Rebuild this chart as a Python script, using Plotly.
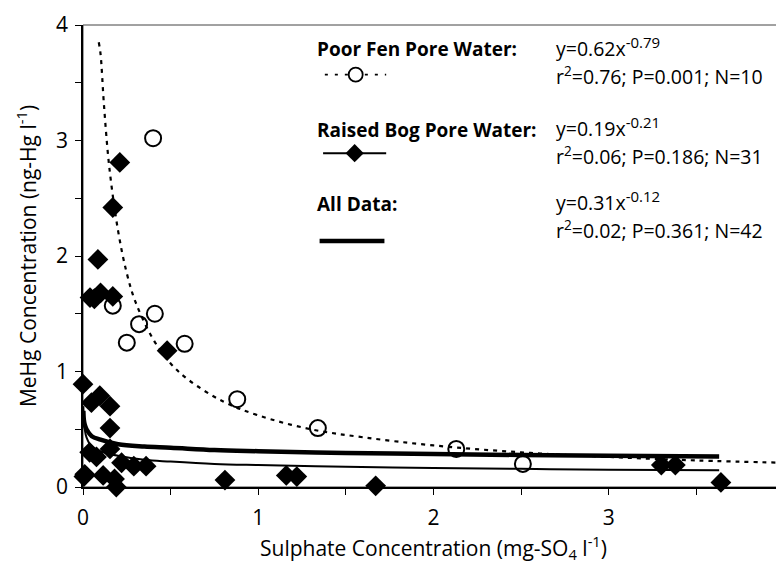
import plotly.graph_objects as go

# ---- data ----
fen_x = [0.40, 0.17, 0.25, 0.32, 0.41, 0.58, 0.88, 1.34, 2.13, 2.51]
fen_y = [3.02, 1.57, 1.25, 1.41, 1.50, 1.24, 0.76, 0.51, 0.33, 0.20]

bog_x = [0.21, 0.17, 0.085, 0.04, 0.065, 0.10, 0.17, 0.48, 0.0, 0.048, 0.096, 0.154,
         0.154, 0.038, 0.077, 0.154, 0.22, 0.29, 0.36, 0.01, 0.115, 0.18, 0.19, 0.81,
         1.16, 1.22, 1.67, 3.30, 3.38, 3.64, 0.005]
bog_y = [2.81, 2.42, 1.97, 1.64, 1.63, 1.68, 1.65, 1.18, 0.89, 0.73, 0.79, 0.70,
         0.51, 0.30, 0.26, 0.33, 0.21, 0.18, 0.18, 0.11, 0.10, 0.07, 0.00, 0.06,
         0.10, 0.09, 0.01, 0.19, 0.19, 0.04, 0.09]

# fitted curves, points
fen_fit_x = [0.09, 0.10, 0.12, 0.15, 0.2, 0.25, 0.3, 0.4, 0.5, 0.6, 0.8, 1.0, 1.3, 1.6, 2.0, 2.5, 3.0, 3.5, 4.0]
fen_fit_y = [3.85, 3.75, 3.30, 2.77, 2.22, 1.85, 1.60, 1.28, 1.07, 0.93, 0.74, 0.62, 0.50, 0.43, 0.36, 0.30, 0.26, 0.23, 0.21]

bog_fit_x = [0.002, 0.005, 0.01, 0.02, 0.05, 0.1, 0.2, 0.35, 0.5, 0.75, 1.0, 1.5, 2.0, 2.5, 3.0, 3.63]
bog_fit_y = [0.70, 0.58, 0.50, 0.43, 0.35, 0.31, 0.27, 0.235, 0.22, 0.20, 0.19, 0.175, 0.165, 0.157, 0.15, 0.145]

all_fit_x = [0.002, 0.005, 0.01, 0.02, 0.05, 0.1, 0.2, 0.35, 0.5, 0.75, 1.0, 1.5, 2.0, 2.5, 3.0, 3.63]
all_fit_y = [0.66, 0.58, 0.54, 0.50, 0.44, 0.41, 0.37, 0.35, 0.34, 0.32, 0.31, 0.295, 0.285, 0.277, 0.27, 0.265]

x_ticks = [0, 1, 2, 3, 4]
y_ticks = [0, 1, 2, 3, 4]

legend_labels = ["Poor Fen Pore Water:", "Raised Bog Pore Water:", "All Data:"]
legend_coef = ["0.62", "0.19", "0.31"]
legend_exp = ["-0.79", "-0.21", "-0.12"]
legend_stats = ["r<sup>2</sup>=0.76; P=0.001; N=10", "r<sup>2</sup>=0.06; P=0.186; N=31",
                "r<sup>2</sup>=0.02; P=0.361; N=42"]

FONT = "Open Sans"

fig = go.Figure()

fig.add_trace(go.Scatter(x=fen_fit_x, y=fen_fit_y, mode="lines", line_shape="spline",
                         line=dict(color="black", width=2.2, dash="4px,5px"),
                         showlegend=False, hoverinfo="skip"))
fig.add_trace(go.Scatter(x=all_fit_x, y=all_fit_y, mode="lines", line_shape="spline",
                         line=dict(color="black", width=4.5), showlegend=False, hoverinfo="skip"))
fig.add_trace(go.Scatter(x=bog_fit_x, y=bog_fit_y, mode="lines", line_shape="spline",
                         line=dict(color="black", width=2), showlegend=False, hoverinfo="skip"))

fig.add_trace(go.Scatter(x=bog_x, y=bog_y, mode="markers", cliponaxis=False,
                         marker=dict(symbol="diamond", size=16, color="black",
                                     line=dict(color="black", width=0)),
                         showlegend=False))
fig.add_trace(go.Scatter(x=fen_x, y=fen_y, mode="markers", cliponaxis=False,
                         marker=dict(symbol="circle-open", size=16, color="black",
                                     line=dict(color="black", width=2)),
                         showlegend=False))

# legend samples
fig.add_trace(go.Scatter(x=[1.38, 1.73], y=[3.57, 3.57], mode="lines",
                         line=dict(color="black", width=1.8, dash="3px,7px"),
                         showlegend=False, hoverinfo="skip", cliponaxis=False))
fig.add_trace(go.Scatter(x=[1.556], y=[3.57], mode="markers",
                         marker=dict(symbol="circle", size=14, color="white",
                                     line=dict(color="black", width=1.8)),
                         showlegend=False, hoverinfo="skip", cliponaxis=False))
fig.add_trace(go.Scatter(x=[1.37, 1.73], y=[2.89, 2.89], mode="lines",
                         line=dict(color="black", width=2),
                         showlegend=False, hoverinfo="skip", cliponaxis=False))
fig.add_trace(go.Scatter(x=[1.55], y=[2.89], mode="markers",
                         marker=dict(symbol="diamond", size=14, color="black",
                                     line=dict(color="black", width=0)),
                         showlegend=False, hoverinfo="skip", cliponaxis=False))
fig.add_trace(go.Scatter(x=[1.35, 1.72], y=[2.13, 2.13], mode="lines",
                         line=dict(color="black", width=4.5),
                         showlegend=False, hoverinfo="skip", cliponaxis=False))

ann = []
lab_y = [3.79, 3.09, 2.45]
eq_y = [3.81, 3.12, 2.48]
st_y = [3.56, 2.87, 2.23]
for i in range(3):
    eq = ("y=" + legend_coef[i] + "x<sup><span style=\"font-size:15px\">"
          + legend_exp[i] + "</span></sup>")
    ann.append(dict(x=1.326, y=lab_y[i], xref="x", yref="y", text="<b>" + legend_labels[i] + "</b>",
                    showarrow=False, xanchor="left", yanchor="middle",
                    font=dict(family=FONT, size=19, color="black")))
    ann.append(dict(x=2.69, y=eq_y[i], xref="x", yref="y", text=eq,
                    showarrow=False, xanchor="left", yanchor="middle",
                    font=dict(family=FONT, size=19.5, color="black")))
    ann.append(dict(x=2.69, y=st_y[i], xref="x", yref="y", text=legend_stats[i],
                    showarrow=False, xanchor="left", yanchor="middle",
                    font=dict(family=FONT, size=19.5, color="black")))

fig.update_layout(
    width=784, height=565,
    margin=dict(l=75, r=8, t=17, b=86, autoexpand=False),
    plot_bgcolor="white", paper_bgcolor="white",
    font=dict(family=FONT, color="black"),
    annotations=ann,
    shapes=[dict(type="rect", xref="paper", yref="paper", x0=0, x1=1, y0=0, y1=1,
                 line=dict(color="#444444", width=1), layer="below")],
    xaxis=dict(range=[0, 4], tickvals=x_ticks, ticktext=[str(v) for v in x_ticks],
               automargin=False,
               showgrid=False, zeroline=False, showline=True, linecolor="black", linewidth=1.5,
               ticks="outside", ticklen=6, tickwidth=1.2, tickcolor="black",
               minor=dict(dtick=0.5, ticks="outside", ticklen=6, tickwidth=1.2, tickcolor="black"),
               tickfont=dict(family=FONT, size=21), ticklabelstandoff=5,
               title=dict(text="Sulphate Concentration (mg-SO<sub>4</sub> l<sup>-1</sup>)",
                          font=dict(family=FONT, size=21), standoff=6)),
    yaxis=dict(range=[0, 4], tickvals=y_ticks, ticktext=[str(v) for v in y_ticks],
               automargin=False,
               showgrid=False, zeroline=False, showline=True, linecolor="black", linewidth=1.5,
               ticks="outside", ticklen=6, tickwidth=1.2, tickcolor="black",
               minor=dict(dtick=0.5, ticks="outside", ticklen=6, tickwidth=1.2, tickcolor="black"),
               tickfont=dict(family=FONT, size=21), ticklabelstandoff=3,
               title=dict(text="MeHg Concentration (ng-Hg l<sup>-1</sup>)",
                          font=dict(family=FONT, size=21), standoff=14)),
)

fig.write_html("out.html")
